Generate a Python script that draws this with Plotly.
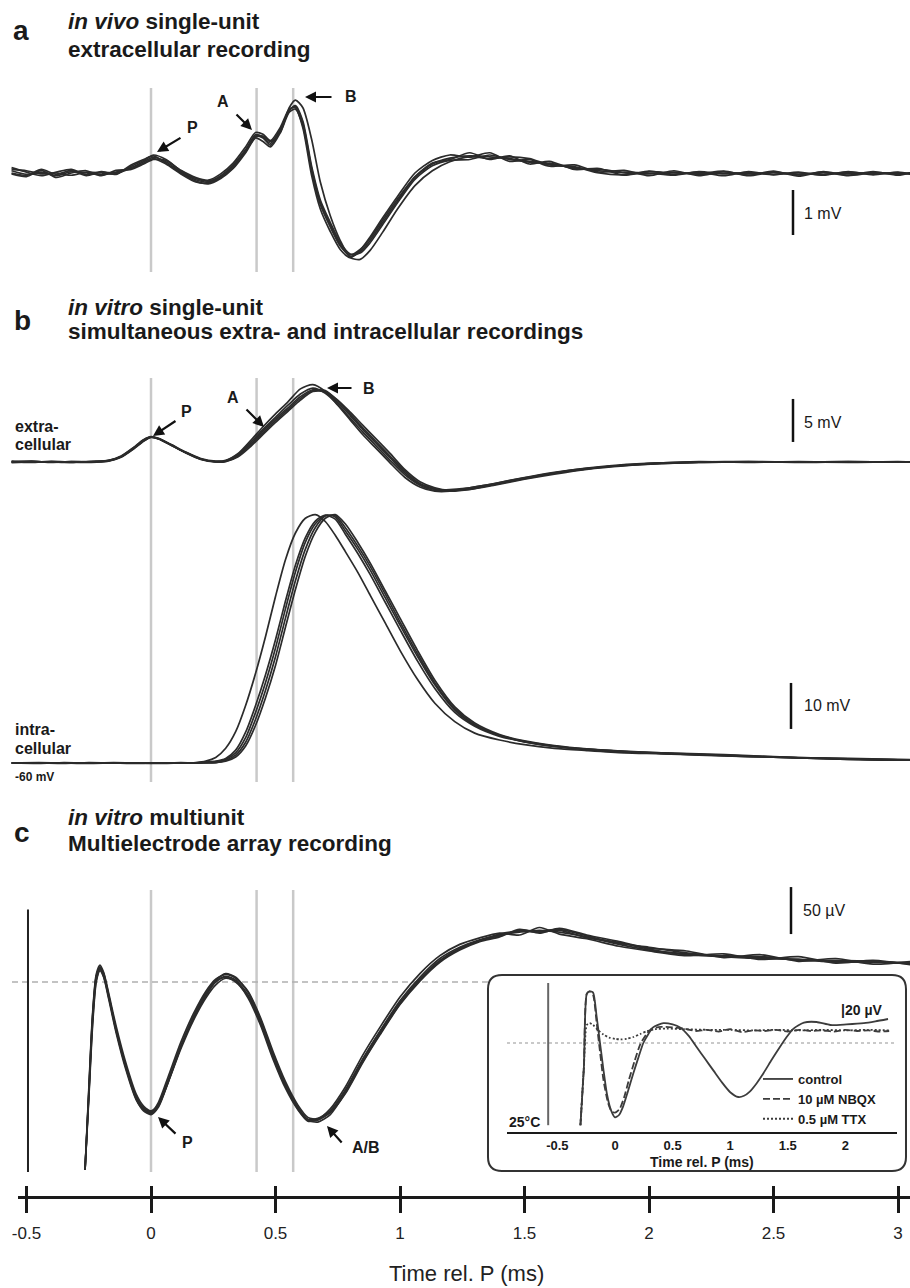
import plotly.graph_objects as go

# ============================ DATA ============================
gray_times = [0.0, 0.424, 0.571]          # ms : P, A, B reference lines
tick_vals = [-0.5, 0, 0.5, 1, 1.5, 2, 2.5, 3]
tick_labels = ["-0.5", "0", "0.5", "1", "1.5", "2", "2.5", "3"]
inset_tick_vals = [-0.5, 0, 0.5, 1, 1.5, 2]
inset_tick_labels = ["-0.5", "0", "0.5", "1", "1.5", "2"]

# ---- panel a : in vivo extracellular (mV) ----
a_t = [-0.56, -0.50, -0.44, -0.38, -0.32, -0.26, -0.20, -0.14, -0.08, -0.03,
       0.01, 0.06, 0.12, 0.18, 0.23, 0.28, 0.33, 0.38, 0.42, 0.45,
       0.48, 0.52, 0.555, 0.58, 0.61, 0.645, 0.68, 0.72, 0.76, 0.80,
       0.84, 0.88, 0.93, 0.99, 1.06, 1.13, 1.20, 1.28, 1.36, 1.44,
       1.52, 1.60, 1.70, 1.80, 1.90, 2.00, 2.10, 2.20, 2.30, 2.40,
       2.50, 2.60, 2.70, 2.80, 2.90, 3.00, 3.06]
a_sweeps = [
    [0.05, -0.03, 0.02, -0.06, 0.03, 0.0, -0.04, 0.02, 0.12, 0.25,
     0.35, 0.25, 0.02, -0.15, -0.20, -0.08, 0.15, 0.50, 0.82, 0.78,
     0.62, 0.95, 1.40, 1.48, 1.10, 0.10, -0.65, -1.15, -1.60, -1.85,
     -1.75, -1.50, -1.10, -0.62, -0.10, 0.20, 0.33, 0.38, 0.36, 0.32,
     0.26, 0.20, 0.12, 0.05, 0.0, -0.02, 0.02, -0.03, 0.0, -0.02,
     0.01, -0.03, 0.0, -0.02, 0.01, -0.01, 0.0],
    [0.12, 0.02, -0.06, 0.02, 0.08, -0.04, 0.03, -0.03, 0.18, 0.30,
     0.38, 0.22, 0.0, -0.18, -0.24, -0.12, 0.10, 0.45, 0.78, 0.70,
     0.58, 0.90, 1.35, 1.42, 1.05, 0.05, -0.70, -1.20, -1.62, -1.82,
     -1.70, -1.45, -1.05, -0.58, -0.08, 0.22, 0.30, 0.45, 0.30, 0.38,
     0.20, 0.26, 0.08, 0.10, -0.05, 0.04, -0.03, 0.02, -0.06, 0.03,
     -0.04, 0.02, -0.05, 0.03, -0.04, 0.02, -0.03],
    [-0.02, -0.08, 0.06, -0.10, 0.0, 0.05, -0.06, 0.06, 0.08, 0.20,
     0.30, 0.28, 0.06, -0.10, -0.16, -0.02, 0.22, 0.58, 0.90, 0.86,
     0.72, 1.02, 1.42, 1.45, 1.00, -0.05, -0.80, -1.30, -1.70, -1.88,
     -1.72, -1.42, -1.00, -0.52, 0.0, 0.28, 0.40, 0.35, 0.45, 0.26,
     0.30, 0.15, 0.18, 0.02, 0.06, -0.06, 0.05, -0.06, 0.03, -0.05,
     0.04, -0.07, 0.03, -0.05, 0.03, -0.05, 0.02],
    [0.08, 0.05, -0.02, 0.0, -0.05, 0.02, 0.0, -0.02, 0.15, 0.28,
     0.40, 0.30, 0.05, -0.12, -0.18, -0.06, 0.18, 0.52, 0.85, 0.80,
     0.66, 0.98, 1.38, 1.50, 1.15, 0.15, -0.60, -1.10, -1.55, -1.80,
     -1.78, -1.55, -1.15, -0.66, -0.14, 0.16, 0.28, 0.30, 0.40, 0.30,
     0.24, 0.22, 0.10, 0.08, 0.02, 0.0, -0.05, 0.03, -0.02, 0.01,
     -0.03, 0.0, -0.04, 0.02, -0.02, 0.01, -0.04],
    [0.0, -0.05, 0.08, -0.03, 0.06, -0.06, 0.02, 0.0, 0.10, 0.22,
     0.32, 0.20, -0.02, -0.20, -0.22, -0.10, 0.12, 0.48, 0.80, 0.82,
     0.70, 0.92, 1.45, 1.62, 1.45, 0.75, -0.20, -0.95, -1.50, -1.88,
     -1.92, -1.72, -1.32, -0.80, -0.28, 0.05, 0.25, 0.36, 0.32, 0.36,
     0.32, 0.18, 0.14, 0.0, -0.04, 0.03, 0.0, -0.02, 0.04, -0.06,
     0.02, -0.04, 0.02, -0.06, 0.0, -0.03, 0.01],
]

# ---- panel b : in vitro extracellular (mV) ----
be_t = [-0.56, -0.48, -0.40, -0.32, -0.24, -0.17, -0.12, -0.07, -0.03, 0.0,
        0.03, 0.08, 0.14, 0.20, 0.26, 0.30, 0.35, 0.40, 0.45, 0.50,
        0.55, 0.60, 0.65, 0.70, 0.75, 0.80, 0.85, 0.90, 0.96, 1.02,
        1.08, 1.14, 1.20, 1.28, 1.38, 1.50, 1.62, 1.75, 1.90, 2.05,
        2.20, 2.40, 2.60, 2.80, 3.00, 3.06]
be_sweeps = [
    [0.0, 0.1, -0.05, 0.05, 0.0, 0.15, 0.6, 1.6, 2.5, 2.9,
     2.7, 2.0, 1.1, 0.35, 0.05, 0.1, 0.8, 2.1, 3.6, 5.0,
     6.3, 7.6, 8.4, 8.1, 6.9, 5.4, 3.8, 2.3, 0.5, -1.3,
     -2.6, -3.2, -3.3, -3.1, -2.6, -1.9, -1.3, -0.8, -0.4, -0.15,
     -0.05, 0.05, -0.02, 0.04, 0.0, 0.02],
    [0.1, 0.0, 0.05, -0.05, 0.08, 0.2, 0.7, 1.7, 2.6, 2.95,
     2.75, 2.05, 1.15, 0.4, 0.1, 0.2, 1.0, 2.5, 4.1, 5.6,
     7.0, 8.5, 9.0, 8.2, 6.6, 4.9, 3.2, 1.7, -0.1, -1.8,
     -2.9, -3.4, -3.4, -3.0, -2.5, -1.8, -1.2, -0.7, -0.3, -0.1,
     0.05, -0.05, 0.05, -0.03, 0.05, 0.0],
    [-0.08, 0.05, 0.0, -0.05, 0.05, 0.1, 0.55, 1.5, 2.4, 2.85,
     2.7, 2.0, 1.05, 0.3, 0.0, 0.05, 0.6, 1.8, 3.2, 4.6,
     5.9, 7.2, 8.2, 8.2, 7.2, 5.8, 4.3, 2.8, 1.0, -0.9,
     -2.3, -3.0, -3.3, -3.2, -2.7, -2.0, -1.4, -0.85, -0.45, -0.2,
     -0.05, 0.0, 0.03, -0.04, 0.02, -0.03],
    [0.05, -0.05, 0.08, 0.0, -0.05, 0.12, 0.6, 1.55, 2.45, 2.9,
     2.72, 1.95, 1.1, 0.35, 0.05, 0.1, 0.7, 2.0, 3.4, 4.8,
     6.1, 7.4, 8.3, 8.3, 7.1, 5.6, 4.0, 2.5, 0.7, -1.1,
     -2.5, -3.1, -3.4, -3.2, -2.6, -1.95, -1.3, -0.8, -0.35, -0.12,
     0.0, 0.05, -0.05, 0.02, -0.02, 0.03],
    [-0.03, 0.08, -0.02, 0.06, 0.02, 0.18, 0.65, 1.65, 2.55, 2.92,
     2.68, 1.98, 1.08, 0.32, 0.02, 0.15, 0.9, 2.3, 3.8, 5.2,
     6.6, 7.9, 8.6, 8.0, 6.7, 5.1, 3.5, 2.0, 0.2, -1.5,
     -2.7, -3.3, -3.2, -3.0, -2.5, -1.85, -1.25, -0.75, -0.38, -0.1,
     -0.03, 0.03, 0.0, 0.05, -0.03, 0.01],
]

# ---- panel b : in vitro intracellular (mV, absolute) ----
bi_t = [-0.56, -0.45, -0.35, -0.25, -0.15, -0.05, 0.05, 0.12, 0.18, 0.22,
        0.26, 0.30, 0.34, 0.38, 0.42, 0.46, 0.50, 0.54, 0.58, 0.62,
        0.66, 0.70, 0.74, 0.78, 0.83, 0.88, 0.94, 1.00, 1.07, 1.14,
        1.22, 1.30, 1.40, 1.50, 1.62, 1.75, 1.90, 2.05, 2.20, 2.40,
        2.60, 2.80, 3.00, 3.06]
bi_sweeps = [
    [-60.0, -60.1, -59.9, -60.0, -60.0, -60.0, -60.0, -60.0, -60.0, -59.9,
     -59.8, -59.2, -57.8, -54.5, -49.0, -42.5, -35.0, -26.5, -18.5, -12.0,
     -8.0, -6.2, -6.5, -9.5, -13.5, -18.0, -24.0, -30.0, -36.8, -43.0,
     -48.5, -51.8, -54.0, -55.3, -56.3, -57.0, -57.5, -57.8, -58.1, -58.5,
     -58.8, -59.1, -59.3, -59.3],
    [-60.0, -59.9, -60.0, -60.1, -60.0, -60.0, -60.0, -60.0, -59.9, -59.6,
     -58.8, -56.8, -53.2, -47.5, -40.5, -32.5, -23.8, -15.8, -10.0, -6.8,
     -6.0, -7.5, -10.5, -14.0, -18.5, -23.5, -29.5, -35.5, -41.8, -47.0,
     -51.0, -53.5, -55.0, -56.0, -56.8, -57.3, -57.8, -58.0, -58.3, -58.6,
     -58.9, -59.2, -59.4, -59.3],
    [-60.0, -60.0, -60.1, -59.9, -60.0, -60.1, -60.0, -60.0, -60.0, -60.0,
     -59.9, -59.6, -58.7, -56.3, -51.8, -45.8, -38.8, -30.5, -22.3, -15.0,
     -9.8, -6.8, -6.0, -8.0, -12.0, -16.5, -22.5, -28.5, -35.5, -42.0,
     -47.8, -51.3, -53.8, -55.2, -56.2, -56.9, -57.4, -57.8, -58.0, -58.4,
     -58.8, -59.0, -59.2, -59.3],
    [-60.0, -60.0, -60.0, -60.0, -59.9, -60.0, -60.1, -60.0, -60.0, -59.9,
     -59.9, -59.4, -58.3, -55.5, -50.5, -44.2, -36.9, -28.5, -20.4, -13.5,
     -8.8, -6.3, -6.2, -8.8, -12.8, -17.2, -23.2, -29.3, -36.2, -42.6,
     -48.2, -51.6, -54.0, -55.4, -56.4, -57.1, -57.6, -57.9, -58.2, -58.6,
     -58.9, -59.2, -59.3, -59.4],
    [-60.0, -60.0, -60.0, -60.0, -60.0, -60.0, -60.0, -59.9, -60.0, -59.8,
     -59.6, -59.0, -57.2, -53.3, -47.5, -40.8, -33.2, -24.8, -17.0, -11.0,
     -7.4, -6.1, -7.0, -10.2, -14.4, -19.0, -25.0, -31.0, -37.8, -43.8,
     -49.0, -52.0, -54.2, -55.4, -56.4, -57.0, -57.5, -57.9, -58.2, -58.5,
     -58.9, -59.1, -59.3, -59.3],
]

# ---- panel c : multielectrode array (µV) ----
c_t = [-0.265, -0.25, -0.235, -0.22, -0.205, -0.19, -0.17, -0.14, -0.10, -0.06,
       -0.03, 0.0, 0.03, 0.07, 0.12, 0.17, 0.22, 0.26, 0.30, 0.34,
       0.39, 0.44, 0.49, 0.54, 0.59, 0.63, 0.67, 0.72, 0.78, 0.85,
       0.92, 1.00, 1.08, 1.16, 1.24, 1.32, 1.40, 1.48, 1.56, 1.64,
       1.75, 1.88, 2.00, 2.15, 2.30, 2.45, 2.60, 2.75, 2.90, 3.06]
c_sweeps = [
    [-200, -120, -40, 5, 16, 8, -15, -50, -90, -122,
     -134, -138, -130, -104, -68, -38, -14, 0, 6, 2,
     -14, -42, -78, -110, -134, -146, -145, -137, -115, -82,
     -52, -20, 5, 25, 37, 45, 50, 53, 55, 53,
     48, 40, 34, 30, 28, 26, 24, 22, 21, 20],
    [-200, -125, -48, 0, 12, 5, -18, -54, -94, -125,
     -136, -139, -128, -100, -64, -34, -10, 3, 8, 4,
     -10, -38, -74, -106, -131, -144, -146, -139, -119, -86,
     -56, -24, 1, 21, 34, 43, 48, 56, 52, 57,
     50, 43, 36, 33, 26, 29, 22, 25, 19, 22],
    [-200, -115, -35, 8, 18, 10, -12, -47, -87, -119,
     -132, -137, -131, -106, -71, -41, -17, -3, 4, 1,
     -17, -46, -82, -113, -136, -148, -146, -135, -112, -78,
     -48, -16, 9, 28, 40, 47, 52, 50, 58, 51,
     46, 38, 33, 28, 30, 24, 27, 20, 23, 18],
    [-200, -118, -38, 6, 15, 9, -14, -51, -91, -123,
     -135, -140, -132, -105, -69, -39, -15, 1, 5, 0,
     -15, -44, -80, -111, -135, -147, -147, -138, -116, -83,
     -53, -22, 3, 23, 36, 44, 51, 54, 53, 55,
     47, 42, 35, 29, 27, 27, 23, 23, 22, 19],
    [-200, -122, -44, 2, 14, 6, -16, -52, -92, -124,
     -137, -141, -133, -106, -69, -37, -12, 2, 9, 5,
     -11, -40, -76, -109, -133, -147, -149, -141, -118, -85,
     -55, -23, 2, 22, 35, 44, 49, 55, 54, 56,
     49, 41, 37, 31, 27, 25, 24, 21, 22, 20],
]
c_artifact_t = [-0.494, -0.494]
c_artifact_v = [77, -202]

# ---- inset (25 °C, µV) ----
ctrl_t = [-0.30, -0.27, -0.245, -0.22, -0.19, -0.16, -0.13, -0.10, -0.07, -0.035,
          0.0, 0.035, 0.07, 0.11, 0.16, 0.20, 0.246, 0.29, 0.33, 0.42,
          0.50, 0.565, 0.64, 0.71, 0.78, 0.855, 0.93, 1.0, 1.07, 1.12,
          1.17, 1.23, 1.29, 1.36, 1.43, 1.49, 1.55, 1.64, 1.75, 1.87,
          2.01, 2.16, 2.26, 2.37]
ctrl_v = [-137, -40, 82, 86, 84, 45, 0, -45, -85, -112,
          -124, -120, -106, -82, -50, -26, 0, 15, 26, 33,
          31, 26, 12, -7, -26, -46, -66, -82, -90, -88,
          -81, -67, -50, -28, -7, 10, 24, 34, 35, 30,
          31, 33, 36, 40]
nbqx_t = [-0.30, -0.27, -0.245, -0.22, -0.19, -0.16, -0.13, -0.10, -0.06, -0.03,
          0.0, 0.04, 0.08, 0.12, 0.17, 0.22, 0.27, 0.32, 0.40, 0.50,
          0.60, 0.70, 0.80, 0.90, 1.00, 1.10, 1.20, 1.30, 1.40, 1.50,
          1.60, 1.70, 1.80, 1.90, 2.00, 2.10, 2.20, 2.30, 2.38]
nbqx_v = [-137, -40, 82, 86, 80, 35, -15, -62, -100, -114,
          -116, -110, -90, -62, -30, -2, 14, 24, 27, 26,
          24, 20, 22, 19, 23, 18, 21, 20, 22, 19,
          22, 20, 21, 19, 22, 20, 21, 19, 20]
ttx_t = [-0.30, -0.27, -0.245, -0.22, -0.19, -0.15, -0.10, -0.05, 0.0, 0.05,
         0.10, 0.16, 0.22, 0.28, 0.35, 0.45, 0.60, 0.80, 1.00, 1.20,
         1.40, 1.60, 1.80, 2.00, 2.20, 2.38]
ttx_v = [-137, -40, 30, 33, 30, 22, 14, 9, 7, 6,
         7, 10, 15, 20, 23, 24, 23, 22, 22, 21,
         22, 21, 22, 21, 22, 21]
inset_artifact_t = [-0.58, -0.58]
inset_artifact_v = [100, -137]

# ============================ LAYOUT HELPERS ============================
W, H = 910, 1288
SANS = "Liberation Sans, Arial, Helvetica, sans-serif"
TRACE = "#2b2b2b"
GRAY = "#c9c9c9"


def PX(x):
    return x / W


def PY(y):
    return 1 - y / H


T0, KX = 151.0, 249.0            # main time axis: pixel of t=0, px per ms


def T(xp):
    return (xp - T0) / KX


def yrange(top, bot, zero, k, off=0.0):
    return [off + (zero - bot) / k, off + (zero - top) / k]


def ydom(top, bot):
    return [PY(bot), PY(top)]


fig = go.Figure()


def add_sweeps(t, sweeps, yax):
    for s in sweeps:
        fig.add_trace(go.Scatter(
            x=t, y=s, mode="lines", xaxis="x3", yaxis=yax,
            line=dict(color=TRACE, width=1.7, shape="spline", smoothing=0.7),
            showlegend=False, hoverinfo="skip"))


add_sweeps(a_t, a_sweeps, "y")
add_sweeps(be_t, be_sweeps, "y2")
add_sweeps(bi_t, bi_sweeps, "y3")
add_sweeps(c_t, c_sweeps, "y4")
fig.add_trace(go.Scatter(x=c_artifact_t, y=c_artifact_v, mode="lines", xaxis="x3",
                         yaxis="y4", line=dict(color="#222", width=2),
                         showlegend=False, hoverinfo="skip"))

# dummy traces so that the display axes are drawn
fig.add_trace(go.Scatter(x=[0], y=[None], xaxis="x", yaxis="y", showlegend=False,
                         hoverinfo="skip"))
fig.add_trace(go.Scatter(x=[0], y=[None], xaxis="x2", yaxis="y", showlegend=False,
                         hoverinfo="skip"))

# inset traces
INS = "#3c3c3c"
fig.add_trace(go.Scatter(x=inset_artifact_t, y=inset_artifact_v, mode="lines",
                         xaxis="x4", yaxis="y5", line=dict(color="#666", width=2),
                         showlegend=False, hoverinfo="skip"))
fig.add_trace(go.Scatter(x=ttx_t, y=ttx_v, mode="lines", xaxis="x4", yaxis="y5",
                         name="0.5 µM TTX",
                         line=dict(color=INS, width=1.8, dash="2px,2px",
                                   shape="spline", smoothing=0.6), hoverinfo="skip"))
fig.add_trace(go.Scatter(x=nbqx_t, y=nbqx_v, mode="lines", xaxis="x4", yaxis="y5",
                         name="10 µM NBQX",
                         line=dict(color=INS, width=1.8, dash="7px,3px",
                                   shape="spline", smoothing=0.6), hoverinfo="skip"))
fig.add_trace(go.Scatter(x=ctrl_t, y=ctrl_v, mode="lines", xaxis="x4", yaxis="y5",
                         name="control",
                         line=dict(color=INS, width=1.8, shape="spline",
                                   smoothing=0.6), hoverinfo="skip"))

hidden = dict(visible=False, fixedrange=True, automargin=False)
tick_font = dict(family=SANS, size=17, color="#222")

fig.update_layout(
    width=W, height=H, autosize=False,
    margin=dict(l=0, r=0, t=0, b=0, pad=0, autoexpand=False),
    paper_bgcolor="white", plot_bgcolor="rgba(0,0,0,0)",
    font=dict(family=SANS, color="#1a1a1a"),
    xaxis=dict(domain=[PX(18), 1], range=[T(18), T(910)], anchor="free",
               position=PY(1197), showline=True, linecolor="#1a1a1a", linewidth=3,
               ticks="outside", ticklen=14, tickwidth=3, tickcolor="#1a1a1a",
               tickvals=tick_vals, ticktext=tick_labels, tickfont=tick_font,
               ticklabelstandoff=6, showgrid=False, zeroline=False, fixedrange=True,
               automargin=False),
    xaxis2=dict(overlaying="x", range=[T(18), T(910)], anchor="free",
                position=PY(1197), showline=False, ticks="inside", ticklen=11,
                tickwidth=3, tickcolor="#1a1a1a", tickvals=tick_vals,
                showticklabels=False, showgrid=False, zeroline=False, fixedrange=True,
                automargin=False),
    xaxis3=dict(domain=[0, 1], range=[T(0), T(910)], anchor="y", **hidden),
    yaxis=dict(domain=ydom(80, 280), range=yrange(80, 280, 173, 45.0),
               anchor="x3", **hidden),
    yaxis2=dict(domain=ydom(370, 500), range=yrange(370, 500, 462, 8.6),
                anchor="x3", **hidden),
    yaxis3=dict(domain=ydom(500, 790), range=yrange(500, 790, 763, 4.6, -60.0),
                anchor="x3", **hidden),
    yaxis4=dict(domain=ydom(880, 1180), range=yrange(880, 1180, 982, 0.94),
                anchor="x3", **hidden),
    # inset axes
    xaxis4=dict(domain=[PX(507), PX(897)],
                range=[(507 - 615) / 115.2, (897 - 615) / 115.2], anchor="y5",
                showline=True, linecolor="#1a1a1a", linewidth=2, ticks="",
                tickvals=inset_tick_vals, ticktext=inset_tick_labels,
                tickfont=dict(family=SANS, size=13, color="#1a1a1a", weight="bold"),
                ticklabelstandoff=0, showgrid=False, zeroline=False, fixedrange=True,
                automargin=False),
    yaxis5=dict(domain=ydom(980, 1132), range=yrange(980, 1132, 1043, 0.6),
                anchor="x4", **hidden),
    showlegend=True,
    legend=dict(x=PX(758), y=PY(1064), xanchor="left", yanchor="top",
                bgcolor="rgba(0,0,0,0)", borderwidth=0, tracegroupgap=0,
                itemwidth=30, traceorder="reversed",
                font=dict(family=SANS, size=13, color="#1a1a1a", weight="bold")),
)

# ============================ SHAPES ============================
shapes = []
# gray reference lines
for tt in gray_times:
    for top, bot in [(88, 272), (378, 782), (890, 1172)]:
        shapes.append(dict(type="line", xref="x3", yref="paper", x0=tt, x1=tt,
                           y0=PY(bot), y1=PY(top), layer="below",
                           line=dict(color=GRAY, width=2.5)))
# panel c zero line (dashed)
shapes.append(dict(type="line", xref="x3", yref="y4", x0=T(12), x1=T(488), y0=0, y1=0,
                   layer="below", line=dict(color="#b0b0b0", width=1.5, dash="6px,4px")))
# scale bars
for yref, tb, v0, v1 in [("y", T(793), -0.378, -1.378),
                         ("y2", T(793), 7.33, 2.33),
                         ("y3", T(791), -42.6, -52.6),
                         ("y4", T(791), 101, 51)]:
    shapes.append(dict(type="line", xref="x3", yref=yref, x0=tb, x1=tb, y0=v0, y1=v1,
                       line=dict(color="#111", width=2.5)))

# inset rounded box
L, R, Tp, B, r = 488, 906, 975, 1171, 14
pts = [("M", L + r, Tp), ("L", R - r, Tp), ("Q", R, Tp, R, Tp + r), ("L", R, B - r),
       ("Q", R, B, R - r, B), ("L", L + r, B), ("Q", L, B, L, B - r), ("L", L, Tp + r),
       ("Q", L, Tp, L + r, Tp)]
path = ""
for p in pts:
    if p[0] == "Q":
        path += f"Q{PX(p[1]):.5f},{PY(p[2]):.5f} {PX(p[3]):.5f},{PY(p[4]):.5f} "
    else:
        path += f"{p[0]}{PX(p[1]):.5f},{PY(p[2]):.5f} "
path += "Z"
shapes.append(dict(type="path", xref="paper", yref="paper", path=path,
                   fillcolor="white", line=dict(color="#333", width=2), layer="below"))
# inset zero line (dotted)
shapes.append(dict(type="line", xref="x4", yref="y5", x0=(507 - 615) / 115.2,
                   x1=(897 - 615) / 115.2, y0=0, y1=0, layer="below",
                   line=dict(color="#b8b8b8", width=1.5, dash="3px,3px")))
fig.update_layout(shapes=shapes)

# ============================ ANNOTATIONS ============================
ann = []


def text(x, y, s, size, bold=False, anchor="left", color="#1a1a1a"):
    ann.append(dict(xref="paper", yref="paper", x=PX(x), y=PY(y), text=s,
                    showarrow=False, xanchor=anchor, yanchor="middle",
                    font=dict(family=SANS, size=size, color=color,
                              weight="bold" if bold else "normal")))


def arrow(xref, yref, x, y, dx, dy):
    ann.append(dict(xref=xref, yref=yref, x=x, y=y, ax=dx, ay=dy, axref="pixel",
                    ayref="pixel", text="", showarrow=True, arrowhead=2, arrowsize=1,
                    arrowwidth=2.2, arrowcolor="#111", standoff=0))


# panel headings
TS = 22.5
text(21, 31, "a", 28, bold=True, anchor="center")
text(66, 22, "<i>in vivo</i> single-unit", TS, bold=True)
text(66, 49, "extracellular recording", TS, bold=True)
text(22, 320, "b", 28, bold=True, anchor="center")
text(66, 308, "<i>in vitro</i> single-unit", TS, bold=True)
text(66, 331, "simultaneous extra- and intracellular recordings", TS, bold=True)
text(22, 832, "c", 28, bold=True, anchor="center")
text(66, 818, "<i>in vitro</i> multiunit", TS, bold=True)
text(66, 843, "Multielectrode array recording", TS, bold=True)

# side labels panel b
text(13, 426, "extra-", 16, bold=True)
text(13, 444, "cellular", 16, bold=True)
text(13, 729, "intra-", 16, bold=True)
text(13, 748, "cellular", 16, bold=True)
text(13, 777, "-60 mV", 12, bold=True)

# scale-bar labels
text(802, 213, "1 mV", 16)
text(802, 422, "5 mV", 16)
text(802, 705, "10 mV", 16)
text(801, 910, "50 µV", 16)

# peak labels + arrows
text(192, 128, "P", 16, bold=True, anchor="center")
arrow("x3", "y", T(157), (173 - 152) / 45.0, 25, -15)
text(223, 102, "A", 16, bold=True, anchor="center")
arrow("x3", "y", T(252), (173 - 130) / 45.0, -17, -17)
text(351, 96, "B", 16, bold=True, anchor="center")
arrow("x3", "y", T(305), (173 - 97) / 45.0, 28, 0)

text(186, 411, "P", 16, bold=True, anchor="center")
arrow("x3", "y2", T(153), (462 - 436) / 8.6, 24, -16)
text(233, 398, "A", 16, bold=True, anchor="center")
arrow("x3", "y2", T(264), (462 - 427) / 8.6, -19, -19)
text(369, 388, "B", 16, bold=True, anchor="center")
arrow("x3", "y2", T(327), (462 - 388) / 8.6, 26, 0)

text(187, 1142, "P", 16, bold=True, anchor="center")
arrow("x3", "y4", T(158), (982 - 1117) / 0.94, 19, 18)
text(366, 1147, "A/B", 16, bold=True, anchor="center")
arrow("x3", "y4", T(327), (982 - 1126) / 0.94, 16, 18)

# inset texts
text(507, 1122, "25°C", 14, bold=True)
text(839, 1010, "|20 µV", 14, bold=True)
text(702, 1162, "Time rel. P (ms)", 14, bold=True, anchor="center")

# main axis title
text(467, 1273, "Time rel. P (ms)", 22, anchor="center", color="#222")

fig.update_layout(annotations=ann)

fig.write_html(
    "out.html",
    config={"displayModeBar": False},
    post_script="document.body.style.margin='0';document.body.style.overflow='hidden';",
)
